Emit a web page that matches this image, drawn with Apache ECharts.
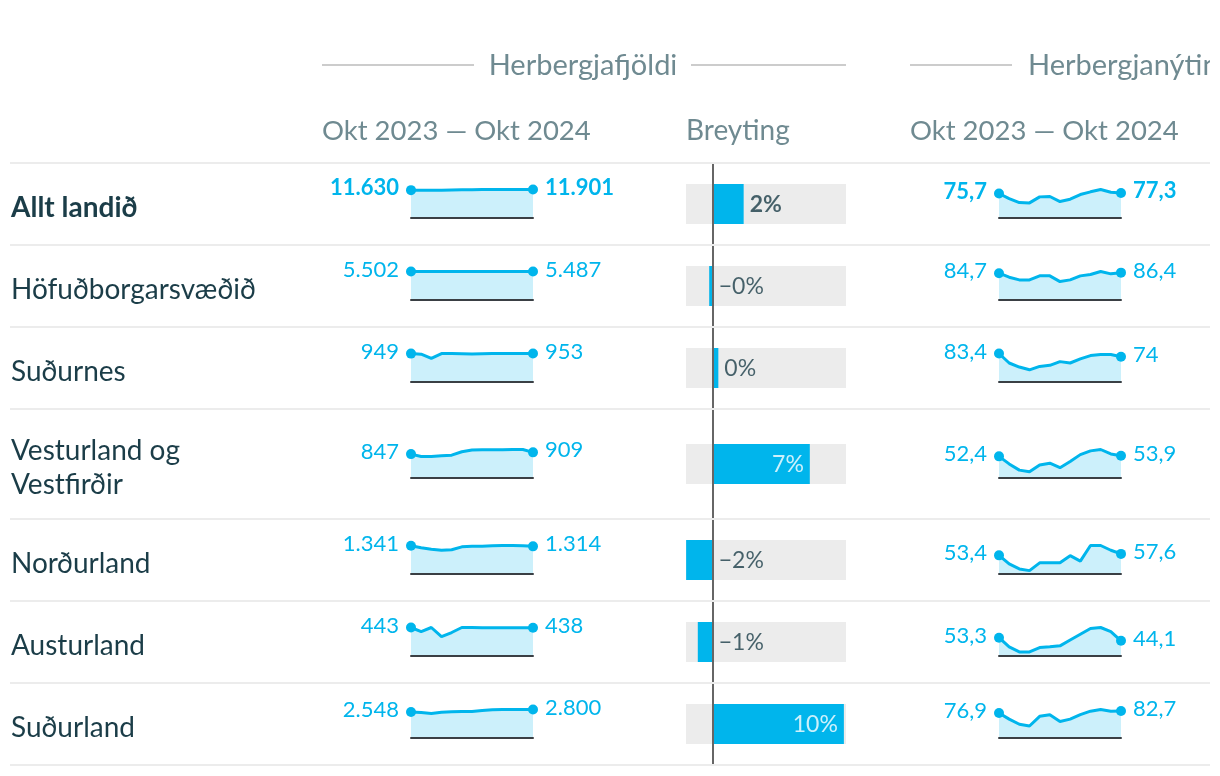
<!DOCTYPE html>
<html><head><meta charset="utf-8">
<script src="https://cdn.jsdelivr.net/npm/echarts@6/dist/echarts.min.js"></script>
<style>html,body{margin:0;padding:0;background:#fff}#c{width:1220px;height:776px}</style>
</head><body><div id="c"></div>
<script>
// ---------- DATA ----------
const regions = ['Allt landið','Höfuðborgarsvæðið','Suðurnes','Vesturland og\nVestfirðir','Norðurland','Austurland','Suðurland'];
const months = ['okt 23','nóv 23','des 23','jan 24','feb 24','mar 24','apr 24','maí 24','jún 24','júl 24','ágú 24','sep 24','okt 24'];

// Herbergjafjöldi (room count), monthly Okt 2023 - Okt 2024
const roomsAll   = [11630,11580,11560,11600,11700,11760,11820,11850,11870,11880,11890,11895,11901];
const roomsHofud = [5502,5495,5480,5485,5490,5495,5500,5500,5498,5495,5492,5490,5487];
const roomsSudn  = [949,930,790,950,950,948,935,945,950,952,953,953,953];
const roomsVest  = [847,765,765,790,810,930,990,1000,1005,1005,1010,1010,909];
const roomsNord  = [1341,1245,1180,1130,1150,1290,1325,1325,1340,1355,1355,1340,1314];
const roomsAust  = [443,380,443,300,365,443,443,440,440,440,440,440,438];
const roomsSudl  = [2548,2500,2400,2540,2580,2600,2610,2700,2780,2790,2790,2795,2800];

// Herbergjanýting (occupancy %), monthly Okt 2023 - Okt 2024
const occAll   = [75.7,60.1,47.7,46.7,65.3,66.4,50.8,58.1,72.6,80.9,88.1,79.8,77.3];
const occHofud = [84.7,72.0,63.5,63.5,76.2,76.2,58.2,63.5,76.2,80.5,90.0,82.6,86.4];
const occSudn  = [83.4,55.6,43.7,35.7,45.7,48.7,59.6,55.6,67.5,77.4,80.4,80.4,74.0];
const occVest  = [52.4,34.1,19.1,15.0,31.6,35.8,25.0,39.9,56.6,65.7,69.0,58.2,53.9];
const occNord  = [53.4,29.1,14.6,9.7,32.0,32.0,32.0,52.4,36.9,81.6,81.6,68.0,57.6];
const occAust  = [53.3,26.7,11.8,11.8,24.7,26.7,29.6,46.4,63.2,80.0,82.9,71.1,44.1];
const occSudl  = [76.9,57.9,42.1,36.9,66.4,71.6,50.6,57.9,71.6,82.2,87.4,82.2,82.7];

// Breyting (% change in room count)
const changes = [2.33,-0.27,0.42,7.32,-2.01,-1.13,9.89];

const rooms = [roomsAll,roomsHofud,roomsSudn,roomsVest,roomsNord,roomsAust,roomsSudl];
const occ   = [occAll,occHofud,occSudn,occVest,occNord,occAust,occSudl];

// ---------- STYLE / LAYOUT ----------
const C = '#00b5ec', AREA = '#ccf0fb', DARK = '#1b3d48', GREY = '#6f8a91', FONT = 'Lato';
function fmtInt(v){ return String(Math.round(v)).replace(/\B(?=(\d{3})+(?!\d))/g,'.'); }
function fmtDec(v){ return String(Math.round(v*10)/10).replace('.',','); }
function pct(v){ return (v<0?'\u2212':'') + Math.round(Math.abs(v)) + '%'; }

const grids=[], xAxes=[], yAxes=[], series=[], graphics=[];

function addSpark(left, base, vals, fmt, bold){
  const k = grids.length, n = vals.length;
  grids.push({left:left, top:base-28.5, width:122, height:28.5});
  xAxes.push({gridIndex:k, type:'category', data:months, boundaryGap:false, z:3,
    axisLine:{show:true, lineStyle:{color:'#3a3f44', width:2}}, axisTick:{show:false}, axisLabel:{show:false}, splitLine:{show:false}});
  yAxes.push({gridIndex:k, type:'value', min:0, max:'dataMax', show:false});
  series.push({type:'line', xAxisIndex:k, yAxisIndex:k, clip:false, silent:true, animation:false,
    symbol:'circle', showAllSymbol:true, lineStyle:{width:3, color:C}, itemStyle:{color:C},
    areaStyle:{color:AREA, opacity:1},
    data: vals.map((v,j)=>{
      const end = (j===0 || j===n-1);
      return {value:v, symbolSize: end?10:0,
        label:{show:end, position: j===0?'left':'right', distance:7, offset:[0,-2],
          formatter: fmt(v), color:C, fontSize:22, fontFamily:FONT, fontWeight: bold?'bold':'normal'}};
    })});
}

let rowTop = 163;
const bounds = [rowTop];
regions.forEach((name,i)=>{
  const h = name.indexOf('\n')>=0 ? 110 : 82;
  const cy = rowTop + h/2;
  const base = cy + 14;
  const bold = i===0;
  addSpark(411, base, rooms[i], fmtInt, bold);
  addSpark(999, base, occ[i], fmtDec, bold);

  // change bar
  const k = grids.length, v = changes[i], inside = v > 5;
  grids.push({left:686, top:rowTop, width:160, height:h});
  xAxes.push({gridIndex:k, type:'value', min:-2.02, max:10.05, show:false});
  yAxes.push({gridIndex:k, type:'category', data:[name], z:5,
    axisLine:{show:true, onZero:true, lineStyle:{color:'#666', width:2}}, axisTick:{show:false}, axisLabel:{show:false}});
  series.push({type:'bar', xAxisIndex:k, yAxisIndex:k, silent:true, animation:false, data:[v], barWidth:40,
    showBackground:true, backgroundStyle:{color:'#ececec'}, itemStyle:{color:C}});
  series.push({type:'scatter', xAxisIndex:k, yAxisIndex:k, silent:true, animation:false, symbolSize:0, z:6,
    data:[[inside ? v : Math.max(v,0), 0]],
    label:{show:true, position: inside?'left':'right', distance:6, offset:[0,1], formatter: pct(v),
      color: inside?'#fff':DARK, fontSize:23, fontFamily:FONT, fontWeight: bold?'bold':'normal'}});

  graphics.push({type:'text', z:50, style:{text:name, x:11, y:cy+4, fill:DARK, font:(bold?'bold ':'')+'28px '+FONT,
    align:'left', verticalAlign:'middle', lineHeight:34}});
  rowTop += h;
  bounds.push(rowTop);
});

bounds.forEach(y=>graphics.push({type:'line', z:100, shape:{x1:10,y1:y,x2:1210,y2:y}, style:{stroke:'#ececec', lineWidth:2}}));

// headers
graphics.push({type:'line', z:50, shape:{x1:322,y1:65,x2:474,y2:65}, style:{stroke:'#cccccc', lineWidth:2}});
graphics.push({type:'line', z:50, shape:{x1:691,y1:65,x2:846,y2:65}, style:{stroke:'#cccccc', lineWidth:2}});
graphics.push({type:'line', z:50, shape:{x1:910,y1:65,x2:1012,y2:65}, style:{stroke:'#cccccc', lineWidth:2}});
graphics.push({type:'text', z:50, style:{text:'Herbergjafjöldi', x:583, y:66, fill:GREY, font:'29px '+FONT, align:'center', verticalAlign:'middle'}});
graphics.push({type:'text', z:50, style:{text:'Herbergjanýting', x:1028, y:66, fill:GREY, font:'29px '+FONT, align:'left', verticalAlign:'middle'}});
graphics.push({type:'rect', z:120, shape:{x:1210,y:30,width:10,height:70}, style:{fill:'#fff'}});
graphics.push({type:'text', z:50, style:{text:'Okt 2023 \u2014 Okt 2024', x:322, y:131, fill:GREY, font:'27.5px '+FONT, align:'left', verticalAlign:'middle'}});
graphics.push({type:'text', z:50, style:{text:'Breyting', x:686, y:131, fill:GREY, font:'28px '+FONT, align:'left', verticalAlign:'middle'}});
graphics.push({type:'text', z:50, style:{text:'Okt 2023 \u2014 Okt 2024', x:910, y:131, fill:GREY, font:'27.5px '+FONT, align:'left', verticalAlign:'middle'}});

const chart = echarts.init(document.getElementById('c'), null, {renderer:'canvas'});
chart.setOption({
  animation:false,
  backgroundColor:'#fff',
  textStyle:{fontFamily:FONT},
  grid:grids, xAxis:xAxes, yAxis:yAxes, series:series, graphic:graphics
});
</script></body></html>
